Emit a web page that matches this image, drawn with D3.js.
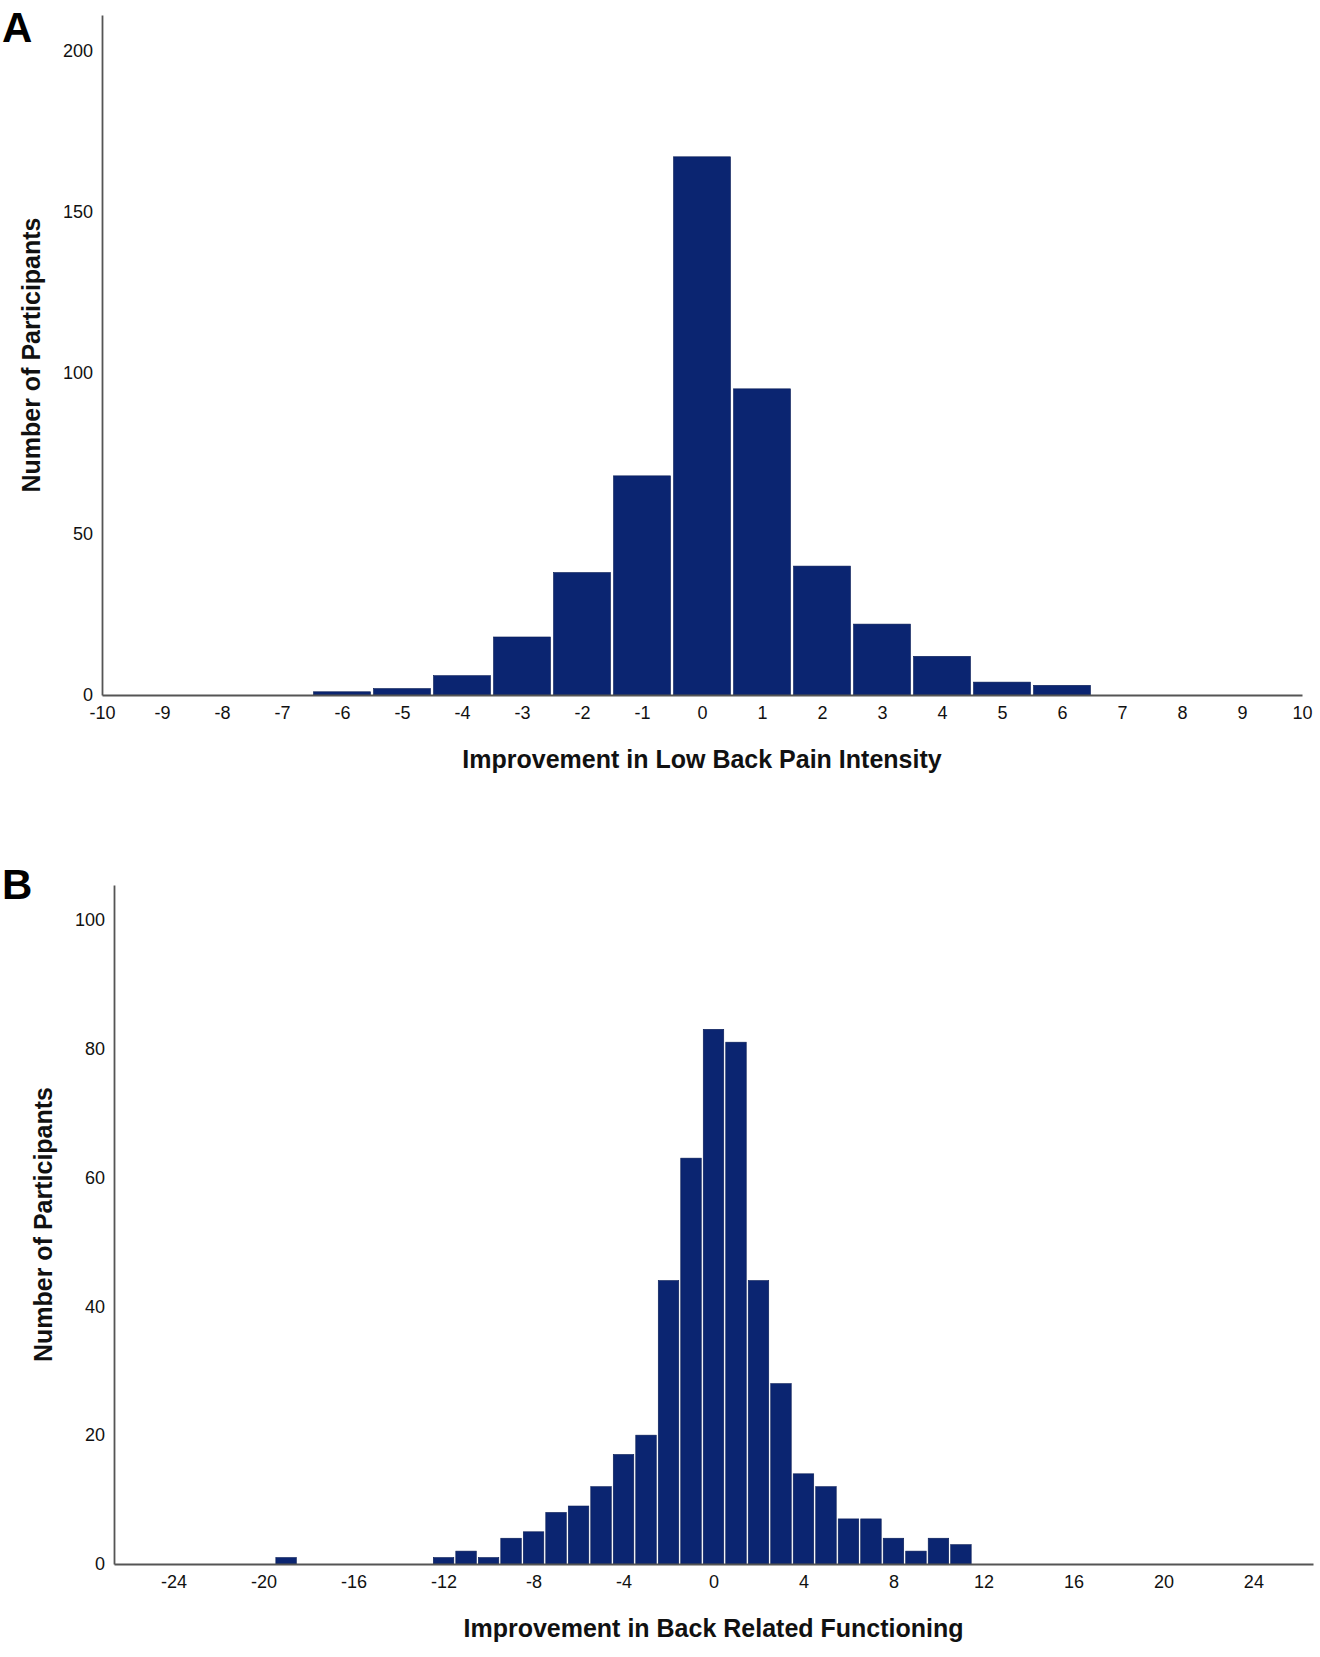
<!DOCTYPE html>
<html>
<head>
<meta charset="utf-8">
<script src="https://cdn.jsdelivr.net/npm/d3@7"></script>
<style>
  body { margin: 0; background: #fff; }
  svg { display: block; font-family: "Liberation Sans", Arial, sans-serif; }
</style>
</head>
<body>
<div id="chart"></div>
<script>
// Panel A: improvement in low back pain intensity
var painValues = [-6, -5, -4, -3, -2, -1, 0, 1, 2, 3, 4, 5, 6];
var painCounts = [1, 2, 6, 18, 38, 68, 167, 95, 40, 22, 12, 4, 3];
var painXTicks = [-10, -9, -8, -7, -6, -5, -4, -3, -2, -1, 0, 1, 2, 3, 4, 5, 6, 7, 8, 9, 10];
var painYTicks = [0, 50, 100, 150, 200];

// Panel B: improvement in back related functioning
var funcValues = [-19, -12, -11, -10, -9, -8, -7, -6, -5, -4, -3, -2, -1, 0, 1, 2, 3, 4, 5, 6, 7, 8, 9, 10, 11];
var funcCounts = [1, 1, 2, 1, 4, 5, 8, 9, 12, 17, 20, 44, 63, 83, 81, 44, 28, 14, 12, 7, 7, 4, 2, 4, 3];
var funcXTicks = [-24, -20, -16, -12, -8, -4, 0, 4, 8, 12, 16, 20, 24];
var funcYTicks = [0, 20, 40, 60, 80, 100];

var barColor = '#0b2571';
var axisColor = '#555';

var svg = d3.select('#chart').append('svg')
    .attr('width', 1320)
    .attr('height', 1657);

// plain hyphen for negatives, like the original
function plain(d) { return String(d); }

function panel(opt) {

  var x = d3.scaleLinear().domain(opt.xDomain).range([opt.left, opt.right]);
  var y = d3.scaleLinear().domain([0, opt.yMax]).range([opt.bottom, opt.top]);
  var bw = x(1) - x(0);

  var g = svg.append('g');

  // bars, one per integer bin
  g.selectAll('rect')
      .data(opt.values)
      .enter()
    .append('rect')
      .attr('x', function (d) { return x(d - 0.5) + opt.gap / 2; })
      .attr('width', bw - opt.gap)
      .attr('y', function (d, i) { return y(opt.counts[i]); })
      .attr('height', function (d, i) { return opt.bottom - y(opt.counts[i]); })
      .attr('fill', barColor)
      .attr('stroke', '#081c55')
      .attr('stroke-width', 0.6);

  var xAxis = g.append('g')
      .attr('transform', 'translate(0,' + opt.bottom + ')')
      .call(d3.axisBottom(x).tickValues(opt.xTicks).tickFormat(plain)
        .tickSize(0).tickSizeOuter(0).tickPadding(11));

  var yAxis = g.append('g')
      .attr('transform', 'translate(' + opt.left + ',0)')
      .call(d3.axisLeft(y).tickValues(opt.yTicks).tickFormat(plain)
        .tickSize(0).tickSizeOuter(0).tickPadding(9));

  [xAxis, yAxis].forEach(function (a) {
    a.select('.domain').attr('stroke', axisColor).attr('stroke-width', 1.8);
    a.selectAll('text')
        .attr('font-family', '"Liberation Sans", Arial, sans-serif')
        .attr('font-size', 18)
        .attr('fill', '#111');
  });

  // axis titles
  g.append('text')
      .attr('x', (opt.left + opt.right) / 2)
      .attr('y', opt.bottom + 73)
      .attr('text-anchor', 'middle')
      .attr('font-size', 25)
      .attr('font-weight', 'bold')
      .attr('fill', '#111')
      .text(opt.xTitle);

  g.append('text')
      .attr('transform', 'translate(' + (opt.left - 62) + ',' + ((opt.top + opt.bottom) / 2) + ') rotate(-90)')
      .attr('text-anchor', 'middle')
      .attr('font-size', 25)
      .attr('font-weight', 'bold')
      .attr('fill', '#111')
      .text('Number of Participants');

  // panel letter
  g.append('text')
      .attr('x', 2)
      .attr('y', opt.letterY)
      .attr('font-size', 42)
      .attr('font-weight', 'bold')
      .attr('fill', '#000')
      .text(opt.letter);
}

panel({
  letter: 'A', letterY: 42,
  values: painValues, counts: painCounts,
  xTicks: painXTicks, yTicks: painYTicks,
  xDomain: [-10, 10], yMax: 211,
  left: 102, right: 1302, top: 15, bottom: 695,
  gap: 3,
  xTitle: 'Improvement in Low Back Pain Intensity'
});

panel({
  letter: 'B', letterY: 899,
  values: funcValues, counts: funcCounts,
  xTicks: funcXTicks, yTicks: funcYTicks,
  xDomain: [-26.65, 26.65], yMax: 105.4,
  left: 114, right: 1313, top: 885, bottom: 1564,
  gap: 2,
  xTitle: 'Improvement in Back Related Functioning'
});
</script>
</body>
</html>
